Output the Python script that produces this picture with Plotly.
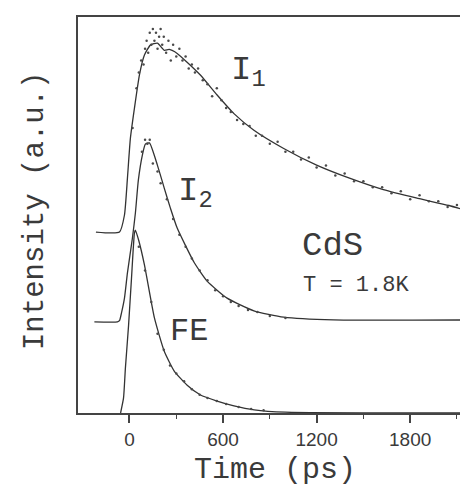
import plotly.graph_objects as go

# ---- fitted curves (time in ps, intensity in a.u.) ----
i1_time = [-215, -64, -32, -13, 6, 32, 64, 96, 134, 179, 223, 255, 306, 453, 562, 670, 798, 989, 1200, 1411, 1628, 1838, 2049, 2189]
i1_fit = [45.7, 45.7, 50.0, 59.3, 69.4, 77.0, 85.4, 90.4, 92.9, 93.4, 91.6, 91.8, 90.8, 85.4, 80.3, 75.6, 71.4, 66.8, 62.6, 59.3, 56.4, 54.3, 52.4, 50.8]

i2_time = [-225, -77, -64, -51, -32, -13, 19, 38, 57, 83, 102, 128, 179, 223, 262, 306, 415, 498, 626, 798, 989, 1309, 2189]
i2_fit = [23.0, 23.0, 23.3, 25.3, 29.0, 35.4, 44.2, 50.5, 58.8, 65.2, 67.9, 68.2, 62.6, 56.8, 51.8, 46.7, 38.0, 33.3, 29.0, 25.8, 24.2, 23.5, 23.5]

fe_time = [-57, -38, -26, -6, 13, 32, 38, 60, 96, 160, 223, 287, 370, 453, 562, 670, 800, 1000, 2189]
fe_fit = [0.0, 3.8, 11.4, 22.0, 34.0, 45.5, 46.2, 43.5, 37.4, 24.0, 15.6, 10.6, 7.0, 4.6, 3.0, 1.8, 0.8, 0.2, 0.0]

i1_pt_time = [20, 45, 60, 75, 90, 100, 110, 120, 130, 140, 150, 160, 170, 180, 190, 200, 210, 220, 235, 250, 265, 280, 300, 320, 340, 360, 380, 400, 420, 440, 470, 500, 530, 560, 590, 620, 650, 690, 730, 770, 810, 850, 900, 950, 1000, 1050, 1100, 1150, 1200, 1260, 1320, 1380, 1440, 1500, 1560, 1620, 1680, 1740, 1800, 1860, 1920, 1980, 2040, 2100, 2160]
i1_pt = [72, 82, 86, 89, 88, 92, 94, 91, 96, 93, 97, 94, 96, 92, 95, 97, 93, 95, 91, 94, 89, 93, 90, 92, 89, 90, 87, 88, 86, 87, 84, 83, 80, 82, 79, 77, 76, 74, 73, 72.5, 70, 70, 68, 68.5, 66, 66, 64, 64.5, 62, 62.5, 60, 60.5, 58.5, 58.5, 57, 57, 55.5, 56, 54, 55, 53.5, 53.5, 52, 52.5, 51]

i2_pt_time = [80, 100, 115, 130, 150, 180, 200, 240, 280, 320, 360, 400, 450, 500, 550, 600, 650, 700, 760, 820, 900, 1000]
i2_pt = [66, 69, 68, 69, 63, 61, 58, 54, 49, 45, 42, 39, 36, 33.5, 31, 29.5, 28, 27, 26, 25.5, 24.5, 24]

fe_pt_time = [60, 100, 140, 180, 220, 260, 300, 350, 400, 450, 500, 560, 620, 700, 780, 860]
fe_pt = [42, 36, 28, 20, 16, 12, 10, 8, 6, 4.6, 3.8, 3, 2.3, 1.5, 1, 0.7]

x_ticks = [0, 600, 1200, 1800]
x_tick_labels = ["0", "600", "1200", "1800"]
x_minor_ticks = [300, 900, 1500, 2100]

LINE = "#333333"
DOT = "#4a4a4a"
TXT = "#3a3a3a"
MONO = "'Liberation Mono', 'Nimbus Mono PS', 'Courier New', Courier, monospace"

fig = go.Figure()
for t, y in [(i1_time, i1_fit), (i2_time, i2_fit), (fe_time, fe_fit)]:
    fig.add_trace(go.Scatter(x=t, y=y, mode="lines",
                             line=dict(color=LINE, width=1.3, shape="spline", smoothing=0.5),
                             showlegend=False, hoverinfo="skip"))
for t, y in [(i1_pt_time, i1_pt), (i2_pt_time, i2_pt), (fe_pt_time, fe_pt)]:
    fig.add_trace(go.Scatter(x=t, y=y, mode="markers",
                             marker=dict(color=DOT, size=2.5),
                             showlegend=False, hoverinfo="skip"))

fig.update_xaxes(range=[-330, 2190], tickmode="array", tickvals=x_ticks, ticktext=x_tick_labels,
                 ticks="outside", ticklen=8, tickwidth=1.5, tickcolor="#444",
                 minor=dict(ticks="outside", ticklen=4, tickwidth=1.2, tickcolor="#444",
                            tickmode="array", tickvals=x_minor_ticks),
                 showline=True, mirror=True, linecolor="#444", linewidth=2,
                 showgrid=False, zeroline=False,
                 tickfont=dict(family="Liberation Sans, Arial, sans-serif", size=19, color=TXT))
fig.update_yaxes(range=[0, 100], showticklabels=False, ticks="",
                 showline=True, mirror=True, linecolor="#444", linewidth=2,
                 showgrid=False, zeroline=False)

ann = []
ann.append(dict(text="Intensity (a.u.)", xref="paper", yref="paper", x=0, y=0.51,
                xanchor="center", yanchor="middle", xshift=-43, textangle=-90, showarrow=False,
                font=dict(family=MONO, size=29, color=TXT)))
ann.append(dict(text="Time (ps)", xref="paper", yref="paper", x=0.5, y=0,
                xanchor="center", yanchor="middle", yshift=-57, showarrow=False,
                font=dict(family=MONO, size=30, color=TXT)))
ann.append(dict(text="I<sub>1</sub>", x=640, y=86, xanchor="left", yanchor="middle", showarrow=False,
                font=dict(family=MONO, size=34, color=TXT)))
ann.append(dict(text="I<sub>2</sub>", x=300, y=55.5, xanchor="left", yanchor="middle", showarrow=False,
                font=dict(family=MONO, size=34, color=TXT)))
ann.append(dict(text="CdS", x=1300, y=42.2, xanchor="center", yanchor="middle", showarrow=False,
                font=dict(family=MONO, size=34, color=TXT)))
ann.append(dict(text="T = 1.8K", x=1455, y=32.2, xanchor="center", yanchor="middle", showarrow=False,
                font=dict(family=MONO, size=22, color=TXT)))
ann.append(dict(text="FE", x=380, y=20.5, xanchor="center", yanchor="middle", showarrow=False,
                font=dict(family=MONO, size=32, color=TXT)))

fig.update_layout(width=468, height=495, margin=dict(l=70, r=3, t=9, b=90),
                  paper_bgcolor="white", plot_bgcolor="white", annotations=ann)

fig.write_html("out.html")
